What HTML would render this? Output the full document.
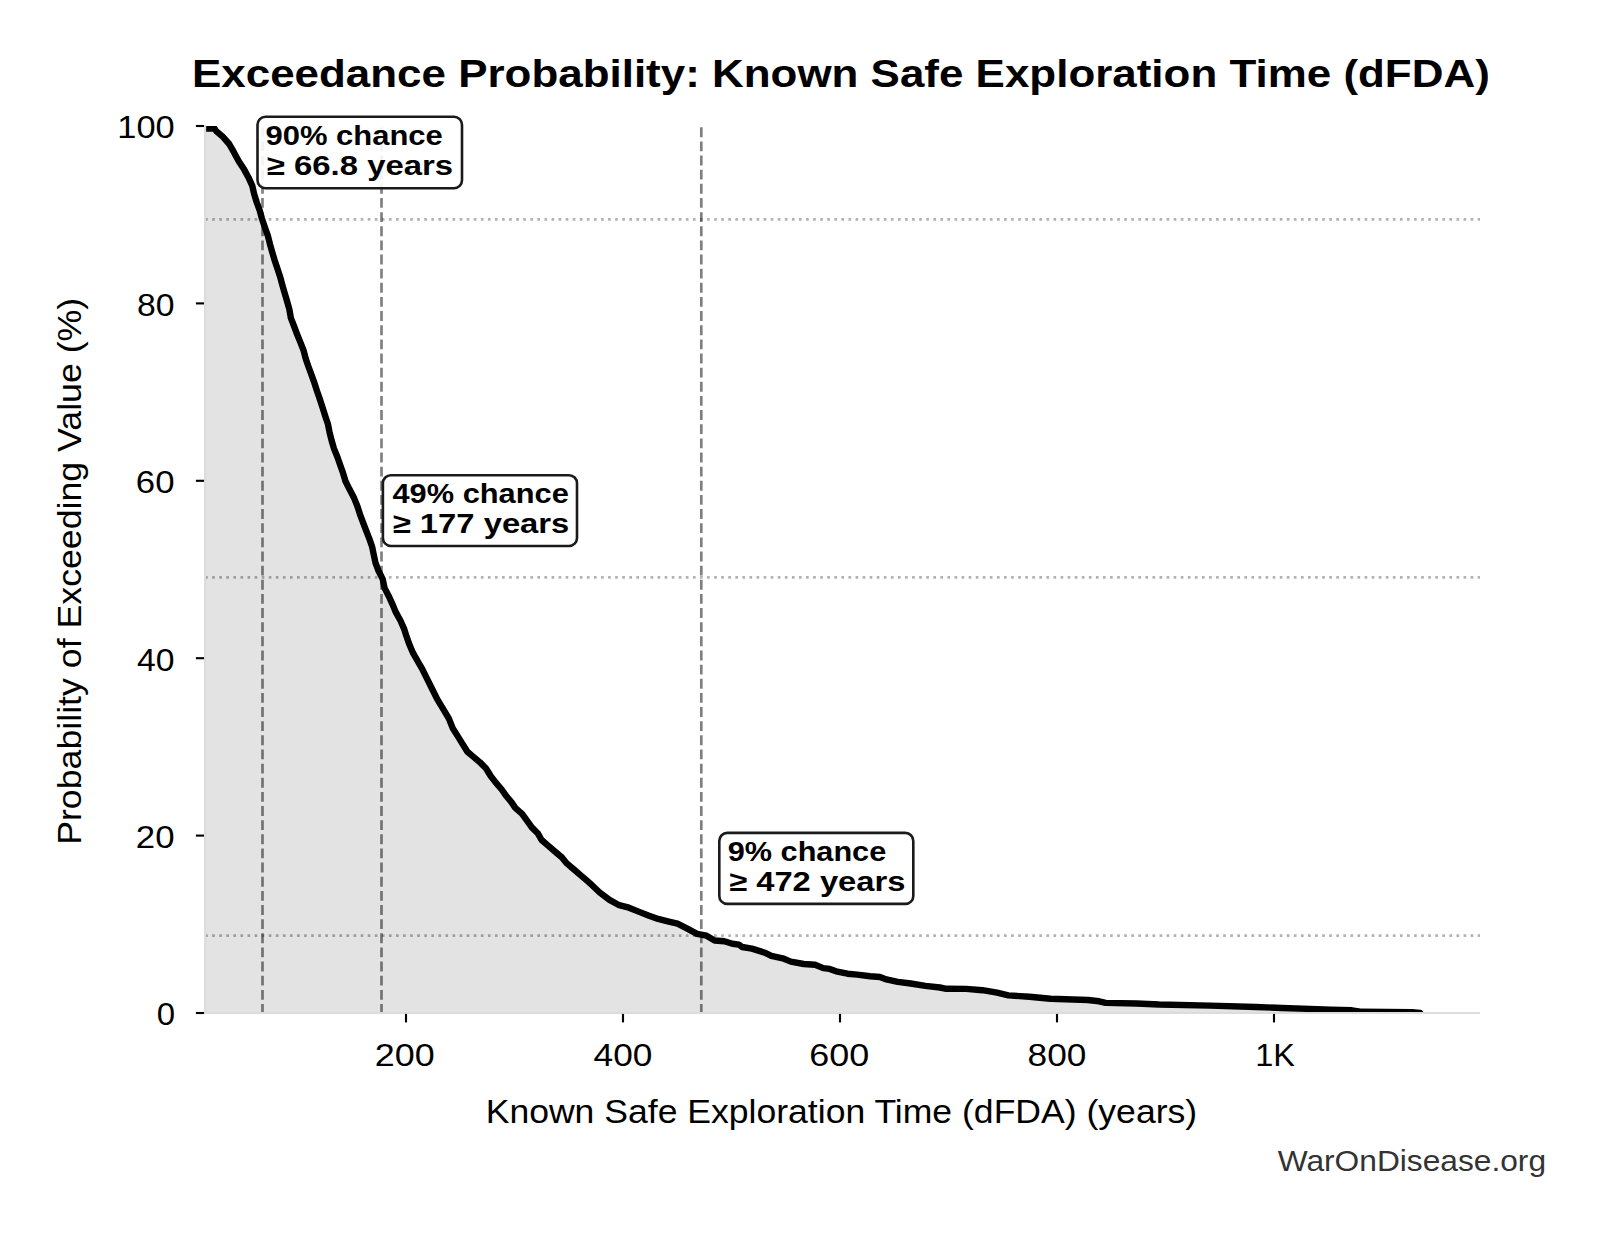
<!DOCTYPE html>
<html><head><meta charset="utf-8"><title>Exceedance Probability</title><style>html,body{margin:0;padding:0;background:#fff;}svg{display:block;}</style></head><body>
<svg width="1604" height="1234" viewBox="0 0 1604 1234">
<defs><clipPath id="ax"><rect x="205.1" y="126.0" width="1274.9" height="887.0"/></clipPath></defs>
<rect width="1604" height="1234" fill="#fff"/>
<path d="M205.5 128.6 L214.6 128.6 L216.2 131.1 L222.7 136.7 L229.2 144 L233.6 151.7 L238.9 161.5 L244.2 169.6 L248.6 177.7 L252.3 185.8 L254.1 193.9 L256.6 202 L259.6 210.1 L261.8 218.2 L265.1 228.1 L268 236.2 L270 244.3 L272.3 252.4 L274.7 260.5 L277.4 268.6 L280.1 276.7 L282.3 284.8 L284.6 292.9 L287 301 L289.3 309.1 L290.9 318.1 L294.1 326.2 L297.1 334.3 L300.4 342.4 L303.6 350.5 L305.7 358.6 L308.5 366.7 L311.5 374.8 L314.4 382.9 L317 391 L319.8 399.1 L322.7 408.1 L325.3 416.2 L328 424.3 L329.6 432.4 L331.6 440.5 L334 448.6 L337.3 456.7 L340.1 464.8 L343 472.9 L345.4 481 L349.4 489.1 L354.1 498.1 L357.4 506.2 L360 514.3 L363 522.4 L366.1 530.5 L369.3 538.6 L372.1 546.7 L373.8 554.8 L375.5 562.9 L378.6 571 L382.7 579.1 L384.6 588.1 L388.8 596.2 L392.5 604.3 L395.9 612.4 L400.4 620.5 L404 628.6 L406.6 636.7 L409.5 644.8 L413 652.9 L417.6 661 L422.3 669.1 L427.5 679.7 L432.4 689.5 L437.2 699.2 L443.1 708.9 L448.9 718.6 L452.8 728.4 L457.7 736.1 L462.5 743.9 L467.4 751.7 L473.2 756.6 L480 762.4 L485.9 768.2 L490.7 776 L495.8 782.6 L501.7 789.5 L506.5 796.3 L511.4 802.1 L515.3 807.9 L522.1 813.8 L527 820.6 L531.8 827.4 L537.7 833.2 L541.6 840 L548.4 845.9 L555.2 851.7 L562 857.5 L566.8 863.4 L573.7 869.2 L580.5 875.1 L587.3 880.9 L590 883.3 L599.7 892.5 L609.5 899.9 L619.2 905.2 L628.9 907.7 L638.6 911.6 L648.4 915.4 L658.1 918.9 L667.8 921.3 L677.5 923.7 L687.3 928.6 L697 933.9 L706.5 935.7 L714.6 940.5 L724.3 941.3 L732.4 943.8 L738.9 944.6 L742.1 947 L751.9 948.6 L764.8 952.7 L771.3 955.9 L782.7 958.3 L790.8 961.6 L803.7 964 L815.1 964.8 L823.2 968.1 L829.7 968.9 L836.1 971.3 L847.5 973.7 L857.2 974.6 L870.2 976.2 L879.9 977 L886.4 979.4 L897.7 981.8 L910.7 983.5 L925.3 985.9 L939.9 987.5 L946.4 988.8 L966.2 988.9 L982.4 990.2 L997 992.7 L1008.3 995.4 L1029.4 996.7 L1050.5 998.7 L1087.8 1000 L1099.1 1001.3 L1105.6 1002.9 L1136.4 1003.5 L1159.1 1004.5 L1210 1005.6 L1256 1007 L1282 1008 L1331 1009.6 L1352 1010.3 L1362 1011.8 L1412 1012.2 L1420 1013 L1420 1013 L205.5 1013 Z" fill="#e3e3e3" clip-path="url(#ax)"/>
<line x1="205.1" y1="219.4" x2="1480.0" y2="219.4" stroke="#000" stroke-opacity="0.3" stroke-width="2.668" stroke-dasharray="2.668 4.402"/>
<line x1="205.1" y1="577.3" x2="1480.0" y2="577.3" stroke="#000" stroke-opacity="0.3" stroke-width="2.668" stroke-dasharray="2.668 4.402"/>
<line x1="205.1" y1="935.7" x2="1480.0" y2="935.7" stroke="#000" stroke-opacity="0.3" stroke-width="2.668" stroke-dasharray="2.668 4.402"/>
<line x1="262.5" y1="1013.0" x2="262.5" y2="126.0" stroke="#000" stroke-opacity="0.5" stroke-width="2.668" stroke-dasharray="9.872 4.269" stroke-dashoffset="0.9"/>
<line x1="381.5" y1="1013.0" x2="381.5" y2="126.0" stroke="#000" stroke-opacity="0.5" stroke-width="2.668" stroke-dasharray="9.872 4.269" stroke-dashoffset="0.9"/>
<line x1="701.3" y1="1013.0" x2="701.3" y2="126.0" stroke="#000" stroke-opacity="0.5" stroke-width="2.668" stroke-dasharray="9.872 4.269" stroke-dashoffset="0.9"/>
<path d="M205.5 128.6 L214.6 128.6 L216.2 131.1 L222.7 136.7 L229.2 144 L233.6 151.7 L238.9 161.5 L244.2 169.6 L248.6 177.7 L252.3 185.8 L254.1 193.9 L256.6 202 L259.6 210.1 L261.8 218.2 L265.1 228.1 L268 236.2 L270 244.3 L272.3 252.4 L274.7 260.5 L277.4 268.6 L280.1 276.7 L282.3 284.8 L284.6 292.9 L287 301 L289.3 309.1 L290.9 318.1 L294.1 326.2 L297.1 334.3 L300.4 342.4 L303.6 350.5 L305.7 358.6 L308.5 366.7 L311.5 374.8 L314.4 382.9 L317 391 L319.8 399.1 L322.7 408.1 L325.3 416.2 L328 424.3 L329.6 432.4 L331.6 440.5 L334 448.6 L337.3 456.7 L340.1 464.8 L343 472.9 L345.4 481 L349.4 489.1 L354.1 498.1 L357.4 506.2 L360 514.3 L363 522.4 L366.1 530.5 L369.3 538.6 L372.1 546.7 L373.8 554.8 L375.5 562.9 L378.6 571 L382.7 579.1 L384.6 588.1 L388.8 596.2 L392.5 604.3 L395.9 612.4 L400.4 620.5 L404 628.6 L406.6 636.7 L409.5 644.8 L413 652.9 L417.6 661 L422.3 669.1 L427.5 679.7 L432.4 689.5 L437.2 699.2 L443.1 708.9 L448.9 718.6 L452.8 728.4 L457.7 736.1 L462.5 743.9 L467.4 751.7 L473.2 756.6 L480 762.4 L485.9 768.2 L490.7 776 L495.8 782.6 L501.7 789.5 L506.5 796.3 L511.4 802.1 L515.3 807.9 L522.1 813.8 L527 820.6 L531.8 827.4 L537.7 833.2 L541.6 840 L548.4 845.9 L555.2 851.7 L562 857.5 L566.8 863.4 L573.7 869.2 L580.5 875.1 L587.3 880.9 L590 883.3 L599.7 892.5 L609.5 899.9 L619.2 905.2 L628.9 907.7 L638.6 911.6 L648.4 915.4 L658.1 918.9 L667.8 921.3 L677.5 923.7 L687.3 928.6 L697 933.9 L706.5 935.7 L714.6 940.5 L724.3 941.3 L732.4 943.8 L738.9 944.6 L742.1 947 L751.9 948.6 L764.8 952.7 L771.3 955.9 L782.7 958.3 L790.8 961.6 L803.7 964 L815.1 964.8 L823.2 968.1 L829.7 968.9 L836.1 971.3 L847.5 973.7 L857.2 974.6 L870.2 976.2 L879.9 977 L886.4 979.4 L897.7 981.8 L910.7 983.5 L925.3 985.9 L939.9 987.5 L946.4 988.8 L966.2 988.9 L982.4 990.2 L997 992.7 L1008.3 995.4 L1029.4 996.7 L1050.5 998.7 L1087.8 1000 L1099.1 1001.3 L1105.6 1002.9 L1136.4 1003.5 L1159.1 1004.5 L1210 1005.6 L1256 1007 L1282 1008 L1331 1009.6 L1352 1010.3 L1362 1011.8 L1412 1012.2 L1420 1013" fill="none" stroke="#000" stroke-width="6.4" stroke-linejoin="round" stroke-linecap="round" clip-path="url(#ax)"/>
<line x1="205.1" y1="124.93" x2="205.1" y2="1014.07" stroke="#dcdcdc" stroke-width="2.13"/>
<line x1="204.03" y1="1013.0" x2="1480.0" y2="1013.0" stroke="#dcdcdc" stroke-width="2.13"/>
<line x1="195.9" y1="126.0" x2="204.0" y2="126.0" stroke="#000" stroke-width="2.13"/>
<text transform="translate(117.24 138.3) scale(1.1292 1)" font-family='"Liberation Sans", sans-serif' font-size="30.5" font-weight="normal" fill="#000">100</text>
<line x1="195.9" y1="303.4" x2="204.0" y2="303.4" stroke="#000" stroke-width="2.13"/>
<text transform="translate(136.99 315.7) scale(1.1063 1)" font-family='"Liberation Sans", sans-serif' font-size="30.5" font-weight="normal" fill="#000">80</text>
<line x1="195.9" y1="480.8" x2="204.0" y2="480.8" stroke="#000" stroke-width="2.13"/>
<text transform="translate(135.82 493.1) scale(1.1419 1)" font-family='"Liberation Sans", sans-serif' font-size="30.5" font-weight="normal" fill="#000">60</text>
<line x1="195.9" y1="658.2" x2="204.0" y2="658.2" stroke="#000" stroke-width="2.13"/>
<text transform="translate(136.99 670.5) scale(1.1063 1)" font-family='"Liberation Sans", sans-serif' font-size="30.5" font-weight="normal" fill="#000">40</text>
<line x1="195.9" y1="835.6" x2="204.0" y2="835.6" stroke="#000" stroke-width="2.13"/>
<text transform="translate(135.82 847.9) scale(1.1419 1)" font-family='"Liberation Sans", sans-serif' font-size="30.5" font-weight="normal" fill="#000">20</text>
<line x1="195.9" y1="1013.0" x2="204.0" y2="1013.0" stroke="#000" stroke-width="2.13"/>
<text transform="translate(156.82 1025.3) scale(1.08 1)" font-family='"Liberation Sans", sans-serif' font-size="30.5" font-weight="normal" fill="#000">0</text>
<line x1="406" y1="1013.9" x2="406" y2="1022.4" stroke="#000" stroke-width="2.13"/>
<text transform="translate(374.84 1065.5) scale(1.1792 1)" font-family='"Liberation Sans", sans-serif' font-size="30.5" font-weight="normal" fill="#000">200</text>
<line x1="623" y1="1013.9" x2="623" y2="1022.4" stroke="#000" stroke-width="2.13"/>
<text transform="translate(593.54 1065.5) scale(1.1551 1)" font-family='"Liberation Sans", sans-serif' font-size="30.5" font-weight="normal" fill="#000">400</text>
<line x1="840" y1="1013.9" x2="840" y2="1022.4" stroke="#000" stroke-width="2.13"/>
<text transform="translate(809.34 1065.5) scale(1.1792 1)" font-family='"Liberation Sans", sans-serif' font-size="30.5" font-weight="normal" fill="#000">600</text>
<line x1="1057" y1="1013.9" x2="1057" y2="1022.4" stroke="#000" stroke-width="2.13"/>
<text transform="translate(1027.54 1065.5) scale(1.1551 1)" font-family='"Liberation Sans", sans-serif' font-size="30.5" font-weight="normal" fill="#000">800</text>
<line x1="1274" y1="1013.9" x2="1274" y2="1022.4" stroke="#000" stroke-width="2.13"/>
<text transform="translate(1255.27 1065.5) scale(1.0629 1)" font-family='"Liberation Sans", sans-serif' font-size="30.5" font-weight="normal" fill="#000">1K</text>
<text transform="translate(191.98 86.9) scale(1.1385 1)" font-family='"Liberation Sans", sans-serif' font-size="38.6" font-weight="bold" fill="#000">Exceedance Probability: Known Safe Exploration Time (dFDA)</text>
<text transform="translate(485.67 1123.0) scale(1.078 1)" font-family='"Liberation Sans", sans-serif' font-size="33" font-weight="normal" fill="#000">Known Safe Exploration Time (dFDA) (years)</text>
<text transform="translate(80.6 844.85) rotate(-90) scale(1.0822 1)" font-family='"Liberation Sans", sans-serif' font-size="33">Probability of Exceeding Value (%)</text>
<rect x="257.5" y="116.8" width="204.50" height="71.40" rx="8" ry="8" fill="#fff" fill-opacity="0.9" stroke="#1a1a1a" stroke-width="2.6"/>
<text transform="translate(265.5 145.0) scale(1.0981 1)" font-family='"Liberation Sans", sans-serif' font-size="28.2" font-weight="bold" fill="#000">90% chance</text>
<text transform="translate(266.83 174.5) scale(1.1665 1)" font-family='"Liberation Sans", sans-serif' font-size="28.2" font-weight="bold" fill="#000">≥ 66.8 years</text>
<rect x="382.90000000000003" y="475.2" width="194.10" height="70.80" rx="8" ry="8" fill="#fff" fill-opacity="0.9" stroke="#1a1a1a" stroke-width="2.6"/>
<text transform="translate(392.5 503.1) scale(1.0919 1)" font-family='"Liberation Sans", sans-serif' font-size="28.2" font-weight="bold" fill="#000">49% chance</text>
<text transform="translate(392.74 532.9) scale(1.1627 1)" font-family='"Liberation Sans", sans-serif' font-size="28.2" font-weight="bold" fill="#000">≥ 177 years</text>
<rect x="719.3" y="832.9" width="194.00" height="71.00" rx="8" ry="8" fill="#fff" fill-opacity="0.9" stroke="#1a1a1a" stroke-width="2.6"/>
<text transform="translate(727.81 861.0) scale(1.0868 1)" font-family='"Liberation Sans", sans-serif' font-size="28.2" font-weight="bold" fill="#000">9% chance</text>
<text transform="translate(729.14 890.8) scale(1.1607 1)" font-family='"Liberation Sans", sans-serif' font-size="28.2" font-weight="bold" fill="#000">≥ 472 years</text>
<text transform="translate(1277.7 1170.7) scale(1.0715 1)" font-family='"Liberation Sans", sans-serif' font-size="29.6" font-weight="normal" fill="#333">WarOnDisease.org</text>
</svg>
</body></html>
